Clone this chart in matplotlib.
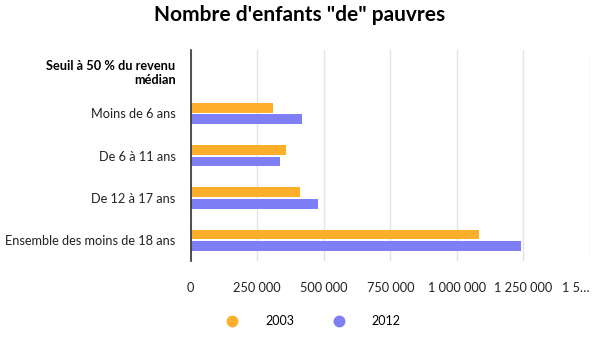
import matplotlib.pyplot as plt
import numpy as np
from matplotlib.lines import Line2D

plt.rcParams['font.family'] = ['Lato', 'DejaVu Sans']

header = "Seuil à 50 % du revenu\nmédian"
categories = ["Moins de 6 ans", "De 6 à 11 ans", "De 12 à 17 ans",
              "Ensemble des moins de 18 ans"]
values_2003 = [308000, 357000, 410000, 1082000]
values_2012 = [418000, 335000, 478000, 1242000]
xticks = [0, 250000, 500000, 750000, 1000000, 1250000, 1500000]
xtick_labels = ["0", "250 000", "500 000", "750 000", "1 000 000", "1 250 000", "1 5…"]

c2003 = '#fdae2a'
c2012 = '#7f7ff5'

fig = plt.figure(figsize=(6, 3.5), dpi=100)
ax = fig.add_axes([0.318, 0.254, 0.665, 0.603])

# row 0 is the header row, data rows follow
ypos = np.arange(1, len(categories) + 1)
h = 0.23
ax.barh(ypos - 0.13, values_2003, height=h, color=c2003, zorder=3)
ax.barh(ypos + 0.14, values_2012, height=h, color=c2012, zorder=3)

ax.set_ylim(len(categories) + 0.5, -0.5)
ax.set_xlim(0, 1500000)
ax.set_yticks([0] + list(ypos))
ax.set_yticklabels([header] + categories, fontsize=9.2, color='#222222')
lab0 = ax.get_yticklabels()[0]
lab0.set_fontweight('bold')
lab0.set_color('black')
ax.set_xticks(xticks)
ax.set_xticklabels(xtick_labels, fontsize=9.2, color='#222222')
ax.get_xticklabels()[-1].set_horizontalalignment('right')
ax.tick_params(axis='both', length=0)
ax.tick_params(axis='y', pad=11)
ax.tick_params(axis='x', pad=15)

ax.grid(axis='x', color='#e3e3e3', linewidth=1, zorder=0)
for s in ['top', 'right', 'bottom']:
    ax.spines[s].set_visible(False)
ax.spines['left'].set_color('#333333')
ax.spines['left'].set_linewidth(1.2)
ax.spines['left'].set_zorder(4)

fig.suptitle('Nombre d\'enfants "de" pauvres', fontsize=15, fontweight='bold',
             y=0.985, va='top')

handles = [Line2D([], [], marker='o', linestyle='', color=c2003, markersize=7.5),
           Line2D([], [], marker='o', linestyle='', color=c2012, markersize=7.5)]
fig.legend(handles, ['2003', '2012'], loc='center', bbox_to_anchor=(0.517, 0.083),
           ncol=2, frameon=False, fontsize=9, handletextpad=1.6, columnspacing=2.6)

fig.savefig('out.png', dpi=100)
